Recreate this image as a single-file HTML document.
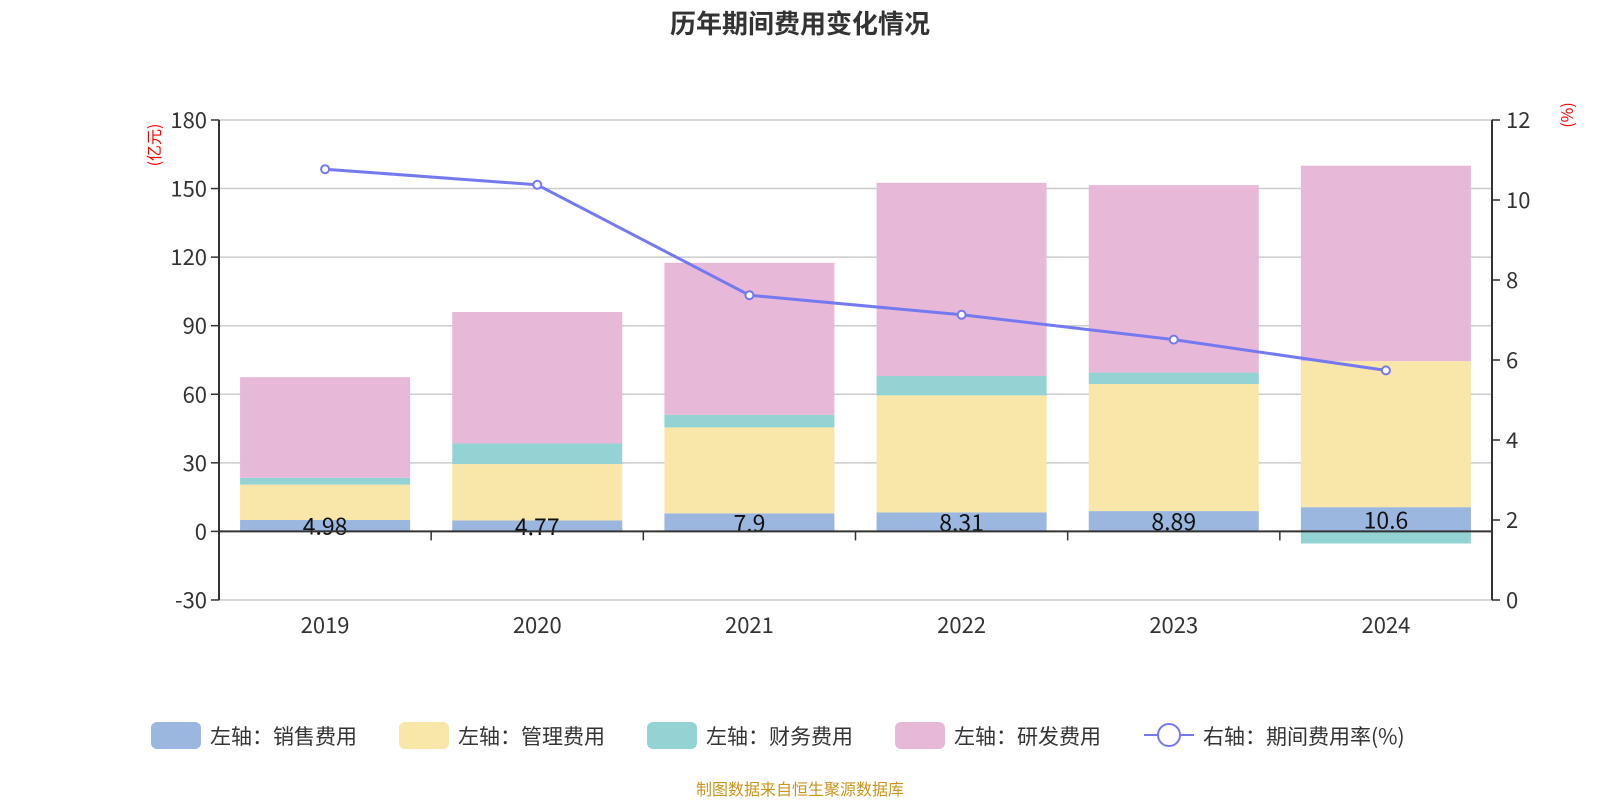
<!DOCTYPE html>
<html><head><meta charset="utf-8"><style>
body{margin:0;background:#fff;}
svg text{font-family:"Noto Sans CJK SC","Liberation Sans",sans-serif;}
</style></head><body>
<svg id="c" width="1600" height="800">
<text x="800" y="33" text-anchor="middle" font-size="26" font-weight="bold" fill="#333">历年期间费用变化情况</text>
<g id="grid"></g><g id="bars"></g><g id="axes"></g><g id="line"></g>
<text x="160" y="145" font-size="16" fill="#f00" transform="rotate(-90 160 145)" text-anchor="middle">(亿元)</text>
<text x="1573" y="115" font-size="16" fill="#f00" transform="rotate(-90 1573 115)" text-anchor="middle">(%)</text>
<g id="legend"></g>
<text x="800" y="795" text-anchor="middle" font-size="16" fill="#c8961e">制图数据来自恒生聚源数据库</text>
</svg>
<script>
const categories=["2019","2020","2021","2022","2023","2024"];
const sales=[4.98,4.77,7.9,8.31,8.89,10.6];
const mgmt=[15.5,24.7,37.6,51.2,55.6,63.9];
const fin=[3,9,5.5,8.5,5,-5.3];
const rnd=[44,57.5,66.5,84.5,82,85.5];
const ratio=[10.77,10.38,7.62,7.13,6.51,5.74];
const leftTicks=[-30,0,30,60,90,120,150,180];
const rightTicks=[0,2,4,6,8,10,12];
const NS="http://www.w3.org/2000/svg";
const X0=219,X1=1492,band=(X1-X0)/categories.length,bw=170;
const yL=v=>531.4-v*68.57/30;
const yR=v=>600-v*40;
const xC=i=>X0+band*(i+0.5);
function mk(p,t,a){const e=document.createElementNS(NS,t);for(const k in a)e.setAttribute(k,a[k]);document.getElementById(p).appendChild(e);return e;}
leftTicks.forEach(t=>{
 if(t!==0){const g=mk('grid','line',{x1:X0,x2:X1,y1:yL(t),y2:yL(t),stroke:'#ccc','stroke-width':1.5});
 
 }
 const tl=mk('axes','line',{x1:X0-8,x2:X0,y1:yL(t),y2:yL(t),stroke:'#333','stroke-width':1.5});
 
 
 const tx=mk('axes','text',{x:X0-12,y:yL(t)+8,'text-anchor':'end','font-size':22,fill:'#333'});tx.textContent=t;
 
 
});
rightTicks.forEach(t=>{
 const tl=mk('axes','line',{x1:X1,x2:X1+8,y1:yR(t),y2:yR(t),stroke:'#333','stroke-width':1.5});
 
 
 const tx=mk('axes','text',{x:X1+14,y:yR(t)+8,'font-size':22,fill:'#333'});tx.textContent=t;
 
 
});
let a=mk('axes','line',{x1:X0,x2:X0,y1:yL(180),y2:yL(-30),stroke:'#333','stroke-width':2});

a=mk('axes','line',{x1:X1,x2:X1,y1:yR(12),y2:yR(0),stroke:'#333','stroke-width':2});

a=mk('axes','line',{x1:X0,x2:X1,y1:yL(0),y2:yL(0),stroke:'#333','stroke-width':2});

categories.forEach((c,i)=>{
 if(i>0){const t=mk('axes','line',{x1:X0+band*i,x2:X0+band*i,y1:yL(0),y2:yL(0)+9,stroke:'#333','stroke-width':1.5});
 }
 const tx=mk('axes','text',{x:xC(i),y:633,'text-anchor':'middle','font-size':22,fill:'#333'});tx.textContent=c;
 
 const series=[[sales,'#9bb7e0'],[mgmt,'#f8e7a9'],[fin,'#94d3d3'],[rnd,'#e7b8d8']];
 let pos=0,neg=0;
 series.forEach(([arr,col],s)=>{
  const v=arr[i];let y0,y1;
  if(v>=0){y0=pos;y1=pos+v;pos=y1;}else{y0=neg;y1=neg+v;neg=y1;}
  const r=mk('bars','rect',{x:xC(i)-bw/2,width:bw,y:Math.min(yL(y0),yL(y1)),height:Math.abs(yL(y0)-yL(y1)),fill:col});
  
  
 });
 const lb=mk('bars','text',{x:xC(i),y:yL(sales[i]/2)+9,'text-anchor':'middle','font-size':23,fill:'#111'});lb.textContent=sales[i];
 
});
const pl=mk('line','polyline',{points:ratio.map((v,i)=>xC(i)+','+yR(v)).join(' '),fill:'none',stroke:'#7579f0','stroke-width':3});

ratio.forEach((v,i)=>{const p=mk('line','circle',{cx:xC(i),cy:yR(v),r:4,fill:'#fff',stroke:'#7579f0','stroke-width':2});
 });
const leg=[['左轴：销售费用','#9bb7e0',151],['左轴：管理费用','#f8e7a9',399],['左轴：财务费用','#94d3d3',647],['左轴：研发费用','#e7b8d8',895]];
leg.forEach(([t,c,x],k)=>{
 const r=mk('legend','rect',{x:x,y:722,width:50,height:27,rx:6,fill:c});
 
 const tx=mk('legend','text',{x:x+59,y:744,'font-size':21,fill:'#333'});tx.textContent=t;
 
});
let l=mk('legend','line',{x1:1144,x2:1194,y1:735,y2:735,stroke:'#7579f0','stroke-width':2});

l=mk('legend','circle',{cx:1169,cy:735,r:11,fill:'#fff',stroke:'#7579f0','stroke-width':2});

l=mk('legend','text',{x:1203,y:744,'font-size':21,fill:'#333'});l.textContent='右轴：期间费用率(%)';

</script>
</body></html>
